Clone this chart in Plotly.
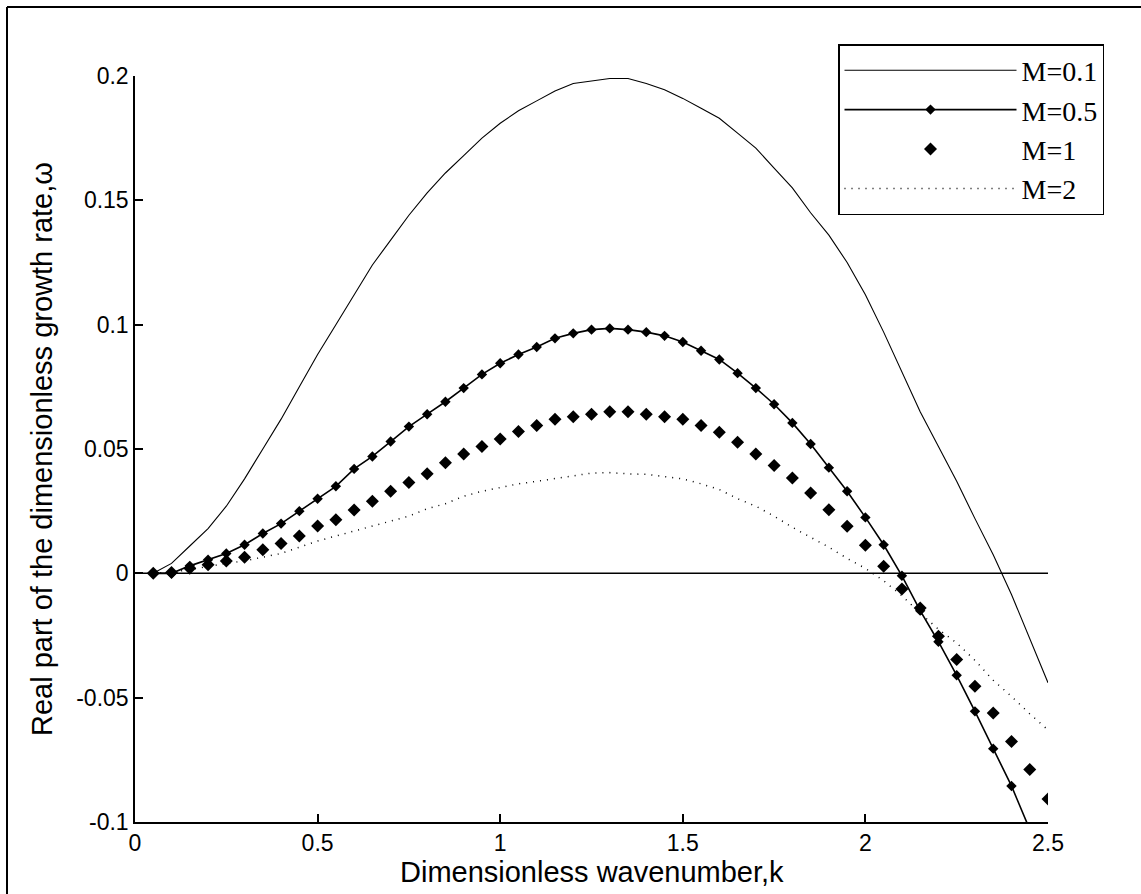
import plotly.graph_objects as go

# ---------------- data ----------------
k = [0.05, 0.10, 0.15, 0.20, 0.25, 0.30, 0.35, 0.40, 0.45, 0.50,
     0.55, 0.60, 0.65, 0.70, 0.75, 0.80, 0.85, 0.90, 0.95, 1.00,
     1.05, 1.10, 1.15, 1.20, 1.25, 1.30, 1.35, 1.40, 1.45, 1.50,
     1.55, 1.60, 1.65, 1.70, 1.75, 1.80, 1.85, 1.90, 1.95, 2.00,
     2.05, 2.10, 2.15, 2.20, 2.25, 2.30, 2.35, 2.40, 2.45, 2.50]

w_M01 = [0.000, 0.004, 0.011, 0.018, 0.027, 0.038, 0.050, 0.062, 0.075, 0.088,
         0.100, 0.112, 0.124, 0.134, 0.144, 0.153, 0.161, 0.168, 0.175, 0.181,
         0.186, 0.190, 0.194, 0.197, 0.198, 0.199, 0.199, 0.197, 0.1945, 0.191,
         0.187, 0.183, 0.177, 0.171, 0.163, 0.155, 0.145, 0.136, 0.125, 0.112,
         0.097, 0.081, 0.065, 0.051, 0.037, 0.022, 0.0075, -0.0085, -0.026, -0.044]

w_M05 = [0.000, 0.000, 0.003, 0.0055, 0.008, 0.0115, 0.016, 0.020, 0.025, 0.030,
         0.035, 0.042, 0.047, 0.053, 0.059, 0.064, 0.069, 0.0745, 0.080, 0.0845,
         0.088, 0.091, 0.0945, 0.0965, 0.098, 0.0985, 0.098, 0.097, 0.0955, 0.093,
         0.0895, 0.086, 0.0805, 0.0745, 0.068, 0.0605, 0.052, 0.0425, 0.033, 0.0225,
         0.0115, -0.001, -0.015, -0.0275, -0.041, -0.0555, -0.0705, -0.0855, -0.103, -0.118]

w_M1 = [0.000, 0.0003, 0.002, 0.0035, 0.005, 0.0065, 0.0095, 0.012, 0.015, 0.019,
        0.0215, 0.0255, 0.029, 0.033, 0.0365, 0.040, 0.0445, 0.048, 0.051, 0.054,
        0.057, 0.0595, 0.062, 0.063, 0.064, 0.065, 0.065, 0.064, 0.063, 0.062,
        0.0595, 0.0567, 0.0527, 0.048, 0.0434, 0.0383, 0.0323, 0.0256, 0.0189, 0.0113,
        0.0028, -0.0063, -0.0139, -0.0253, -0.0347, -0.0454, -0.0562, -0.0676, -0.0789, -0.0908]

w_M2 = [0.000, 0.0005, 0.0015, 0.0028, 0.004, 0.005, 0.0064, 0.008, 0.0105, 0.013,
        0.015, 0.017, 0.019, 0.021, 0.023, 0.026, 0.028, 0.031, 0.033, 0.0345,
        0.036, 0.037, 0.038, 0.039, 0.0403, 0.0405, 0.040, 0.0398, 0.039, 0.038,
        0.036, 0.0337, 0.030, 0.027, 0.023, 0.0185, 0.0145, 0.0105, 0.006, 0.002,
        -0.003, -0.009, -0.016, -0.0225, -0.028, -0.035, -0.043, -0.0495, -0.0565, -0.063]

zero_k = [0.0, 2.5]
zero_w = [0.0, 0.0]

series_names = ["M=0.1", "M=0.5", "M=1", "M=2"]

x_tick_vals = [0, 0.5, 1, 1.5, 2, 2.5]
x_tick_text = ["0", "0.5", "1", "1.5", "2", "2.5"]
y_tick_vals = [-0.1, -0.05, 0, 0.05, 0.1, 0.15, 0.2]
y_tick_text = ["-0.1", "-0.05", "0", "0.05", "0.1", "0.15", "0.2"]

x_title = "Dimensionless wavenumber,k"
y_title = "Real part of the dimensionless growth rate,\u03c9"

# ---------------- figure ----------------
W, H = 1141, 894
L, R, T, B = 135, 93, 76, 72
pw, ph = W - L - R, H - T - B

def px_x(px):
    return (px - L) / pw

def px_y(py):
    return (H - B - py) / ph

fig = go.Figure()

fig.add_trace(go.Scatter(x=k, y=w_M01, name=series_names[0], mode="lines",
                         line=dict(color="black", width=1.1)))
fig.add_trace(go.Scatter(x=k, y=w_M05, name=series_names[1], mode="lines+markers",
                         line=dict(color="black", width=1.6),
                         marker=dict(symbol="diamond", size=8, color="black")))
fig.add_trace(go.Scatter(x=k, y=w_M1, name=series_names[2], mode="markers",
                         marker=dict(symbol="diamond", size=10, color="black")))
fig.add_trace(go.Scatter(x=k, y=w_M2, name=series_names[3], mode="lines",
                         line=dict(color="black", width=1.5, dash="1px,6px")))
fig.add_trace(go.Scatter(x=zero_k, y=zero_w, mode="lines", showlegend=False,
                         line=dict(color="black", width=1.5), hoverinfo="skip"))

sans = "Liberation Sans, Arial, sans-serif"
tick_font = dict(family=sans, size=23, color="black")

fig.update_layout(
    width=W, height=H,
    margin=dict(l=L, r=R, t=T, b=B, autoexpand=False),
    paper_bgcolor="white", plot_bgcolor="white",
    showlegend=True,
    legend=dict(
        x=px_x(838), y=px_y(44), xanchor="left", yanchor="top",
        bgcolor="white", bordercolor="black", borderwidth=1.5,
        font=dict(family="Liberation Serif, Times New Roman, serif", size=28, color="black"),
        itemwidth=172, tracegroupgap=0,
    ),
    xaxis=dict(range=[0, 2.5], tickvals=x_tick_vals, ticktext=x_tick_text,
               showline=True, linecolor="black", linewidth=1.5, mirror=False,
               ticks="inside", ticklen=8, tickwidth=1.5, tickcolor="black",
               showgrid=False, zeroline=False, tickfont=tick_font),
    yaxis=dict(range=[-0.1, 0.2], tickvals=y_tick_vals, ticktext=y_tick_text,
               showline=True, linecolor="black", linewidth=1.5, mirror=False,
               ticks="inside", ticklen=8, tickwidth=1.5, tickcolor="black",
               showgrid=False, zeroline=False, tickfont=tick_font),
    annotations=[
        dict(text=x_title, xref="paper", yref="paper", x=0.5, y=px_y(872),
             xanchor="center", yanchor="middle", showarrow=False,
             font=dict(family=sans, size=29, color="black")),
        dict(text=y_title, xref="paper", yref="paper", x=px_x(42), y=0.5,
             xanchor="center", yanchor="middle", showarrow=False, textangle=-90,
             font=dict(family=sans, size=29, color="black")),
    ],
    shapes=[
        dict(type="line", xref="paper", yref="paper", x0=px_x(7), x1=px_x(1141),
             y0=px_y(7), y1=px_y(7), line=dict(color="black", width=2)),
        dict(type="line", xref="paper", yref="paper", x0=px_x(7), x1=px_x(7),
             y0=px_y(7), y1=px_y(894), line=dict(color="black", width=2)),
    ],
)

fig.write_html("out.html")
